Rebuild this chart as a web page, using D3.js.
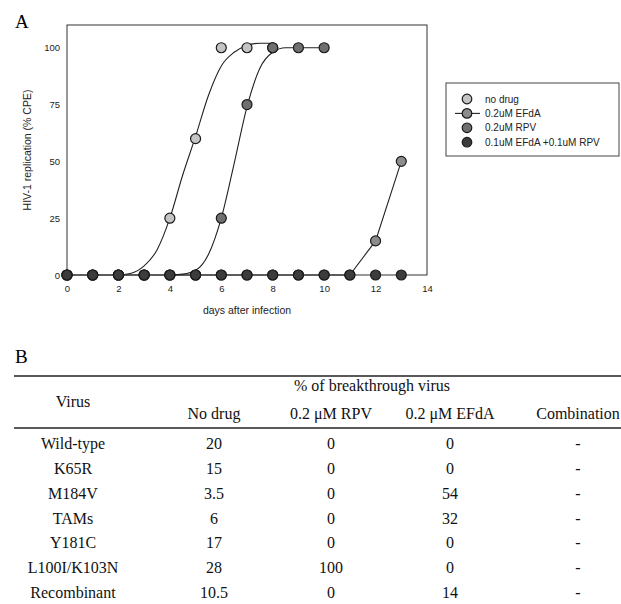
<!DOCTYPE html>
<html>
<head>
<meta charset="utf-8">
<script src="https://cdn.jsdelivr.net/npm/d3@7"></script>
<style>
  body { margin: 0; background: #fff; }
  svg { display: block; }
  .tick text { font-family: Arial, "Liberation Sans", sans-serif; }
</style>
</head>
<body>
<div id="graph"></div>
<script>
// ---- panel A data ----
var noDrugDays = [0, 1, 2, 3, 4, 5, 6, 7, 8]
var noDrugVals = [0, 0, 0, 0, 25, 60, 100, 100, 100]
var efdaDays = [0, 1, 2, 3, 4, 5, 6, 7, 8, 9, 10, 11, 12, 13]
var efdaVals = [0, 0, 0, 0, 0, 0, 0, 0, 0, 0, 0, 0, 15, 50]
var rpvDays = [0, 1, 2, 3, 4, 5, 6, 7, 8, 9, 10]
var rpvVals = [0, 0, 0, 0, 0, 0, 25, 75, 100, 100, 100]
var comboDays = [0, 1, 2, 3, 4, 5, 6, 7, 8, 9, 10, 11, 12, 13]
var comboVals = [0, 0, 0, 0, 0, 0, 0, 0, 0, 0, 0, 0, 0, 0]
// fitted curves as drawn in the figure
var fitNoDrugDays = [2, 2.5, 3, 3.5, 4, 4.5, 5, 5.5, 6, 6.5, 7, 7.5, 8]
var fitNoDrugVals = [0, 0.8, 4, 11, 25, 44, 61, 79, 92, 98, 101, 102, 102]
var fitRpvDays = [4, 4.5, 5, 5.5, 6, 6.5, 7, 7.5, 8, 8.5, 9, 10]
var fitRpvVals = [0, 0.4, 2, 9, 25, 49, 74, 91, 98, 100, 100, 100]
var xTicks = [0, 2, 4, 6, 8, 10, 12, 14]
var yTicks = [0, 25, 50, 75, 100]
var legendLabels = ["no drug", "0.2uM EFdA", "0.2uM RPV", "0.1uM EFdA +0.1uM RPV"]

// ---- panel B data ----
var viruses = ["Wild-type", "K65R", "M184V", "TAMs", "Y181C", "L100I/K103N", "Recombinant"]
var columns = ["No drug", "0.2 \u03bcM RPV", "0.2 \u03bcM EFdA", "Combination"]
var noDrugPct = ["20", "15", "3.5", "6", "17", "28", "10.5"]
var rpvPct = ["0", "0", "0", "0", "0", "100", "0"]
var efdaPct = ["0", "0", "54", "32", "0", "0", "14"]
var comboPct = ["-", "-", "-", "-", "-", "-", "-"]

var W = 621, H = 604
var svg = d3.select("#graph").append("svg").attr("width", W).attr("height", H)
svg.append("rect").attr("width", W).attr("height", H).attr("fill", "#fff")

var sans = "Arial, 'Liberation Sans', sans-serif"
var serif = "'Times New Roman', 'Liberation Serif', serif"

// ---------- Panel A ----------
svg.append("text").attr("x", 15).attr("y", 28).attr("font-family", serif)
	.attr("font-size", 19).text("A")

var x = d3.scaleLinear().domain([0, 14]).range([67, 427])
var y = d3.scaleLinear().domain([0, 110]).range([275, 25])

var plot = svg.append("g")
plot.append("rect")
	.attr("x", x(0)).attr("y", y(110))
	.attr("width", x(14) - x(0)).attr("height", y(0) - y(110))
	.attr("fill", "none").attr("stroke", "#333").attr("stroke-width", 1)

var xAxis = plot.append("g").attr("transform", "translate(0," + y(0) + ")")
	.call(d3.axisBottom(x).tickValues(xTicks).tickSize(0).tickPadding(10))
xAxis.select(".domain").remove()
xAxis.selectAll("text").attr("font-size", 9.5).attr("fill", "#222")

var yAxis = plot.append("g").attr("transform", "translate(" + x(0) + ",0)")
	.call(d3.axisLeft(y).tickValues(yTicks).tickSize(0).tickPadding(7))
yAxis.select(".domain").remove()
yAxis.selectAll("text").attr("font-size", 9.5).attr("fill", "#222")

svg.append("text").attr("x", (x(0) + x(14)) / 2).attr("y", 314)
	.attr("text-anchor", "middle").attr("font-family", sans).attr("font-size", 10.5)
	.attr("fill", "#222").text("days after infection")
svg.append("text").attr("transform", "translate(31," + y(55) + ") rotate(-90)")
	.attr("text-anchor", "middle").attr("font-family", sans).attr("font-size", 10.5)
	.attr("fill", "#222").text("HIV-1 replication (% CPE)")

var line = d3.line().x(function(d){ return x(d[0]) }).y(function(d){ return y(d[1]) })
var smooth = d3.line().curve(d3.curveMonotoneX)
	.x(function(d){ return x(d[0]) }).y(function(d){ return y(d[1]) })

function zip(a, b){ return a.map(function(v, i){ return [v, b[i]] }) }

plot.append("path").datum(zip(fitNoDrugDays, fitNoDrugVals)).attr("d", smooth)
	.attr("fill", "none").attr("stroke", "#222").attr("stroke-width", 1.1)
plot.append("path").datum(zip(fitRpvDays, fitRpvVals)).attr("d", smooth)
	.attr("fill", "none").attr("stroke", "#222").attr("stroke-width", 1.1)
plot.append("path").datum(zip(efdaDays, efdaVals)).attr("d", line)
	.attr("fill", "none").attr("stroke", "#222").attr("stroke-width", 1.1)

var series = [
	{ pts: zip(noDrugDays, noDrugVals), fill: "#c4c4c4" },
	{ pts: zip(rpvDays, rpvVals), fill: "#6f6f6f" },
	{ pts: zip(efdaDays, efdaVals), fill: "#8c8c8c" },
	{ pts: zip(comboDays, comboVals), fill: "#3c3c3c" }
]
series.forEach(function(s){
	plot.append("g").selectAll("circle").data(s.pts).enter().append("circle")
		.attr("cx", function(d){ return x(d[0]) })
		.attr("cy", function(d){ return y(d[1]) })
		.attr("r", 5)
		.attr("fill", s.fill).attr("stroke", "#1a1a1a").attr("stroke-width", 1.2)
})

// legend
var legFills = ["#c4c4c4", "#8c8c8c", "#6f6f6f", "#3c3c3c"]
var leg = svg.append("g")
leg.append("rect").attr("x", 446).attr("y", 83).attr("width", 173).attr("height", 73)
	.attr("fill", "#fff").attr("stroke", "#444").attr("stroke-width", 1)
legendLabels.forEach(function(lab, i){
	var ly = 99 + i * 14.4
	if (i === 1)
		leg.append("line").attr("x1", 455).attr("x2", 480).attr("y1", ly).attr("y2", ly)
			.attr("stroke", "#222").attr("stroke-width", 1.1)
	leg.append("circle").attr("cx", 467).attr("cy", ly).attr("r", 4.8)
		.attr("fill", legFills[i]).attr("stroke", "#1a1a1a").attr("stroke-width", 1.2)
	leg.append("text").attr("x", 485).attr("y", ly + 3.6).attr("font-family", sans)
		.attr("font-size", 10).attr("fill", "#222").text(lab)
})

// ---------- Panel B ----------
svg.append("text").attr("x", 15).attr("y", 363).attr("font-family", serif)
	.attr("font-size", 19).text("B")

var table = svg.append("g").attr("font-family", serif).attr("font-size", 16).attr("fill", "#111")
table.append("line").attr("x1", 14).attr("x2", W).attr("y1", 376).attr("y2", 376)
	.attr("stroke", "#222").attr("stroke-width", 1.3)
table.append("line").attr("x1", 14).attr("x2", W).attr("y1", 428).attr("y2", 428)
	.attr("stroke", "#222").attr("stroke-width", 1.3)

var colX = d3.scaleOrdinal().domain(columns).range([214, 331, 450, 578])
var rowY = d3.scalePoint().domain(viruses).range([444, 593])

table.append("text").attr("x", 73).attr("y", 407).attr("text-anchor", "middle").text("Virus")
table.append("text").attr("x", 372).attr("y", 391).attr("text-anchor", "middle").text("% of breakthrough virus")
table.selectAll("text.col").data(columns).enter().append("text").attr("class", "col")
	.attr("x", function(d){ return colX(d) }).attr("y", 419)
	.attr("text-anchor", "middle").text(function(d){ return d })

table.selectAll("text.row").data(viruses).enter().append("text").attr("class", "row")
	.attr("x", 73).attr("y", function(d){ return rowY(d) + 5 })
	.attr("text-anchor", "middle").text(function(d){ return d })

var colVals = [noDrugPct, rpvPct, efdaPct, comboPct]
colVals.forEach(function(vals, ci){
	table.append("g").selectAll("text").data(vals).enter().append("text")
		.attr("x", colX(columns[ci]))
		.attr("y", function(d, i){ return rowY(viruses[i]) + 5 })
		.attr("text-anchor", "middle").text(function(d){ return d })
})
</script>
</body>
</html>
